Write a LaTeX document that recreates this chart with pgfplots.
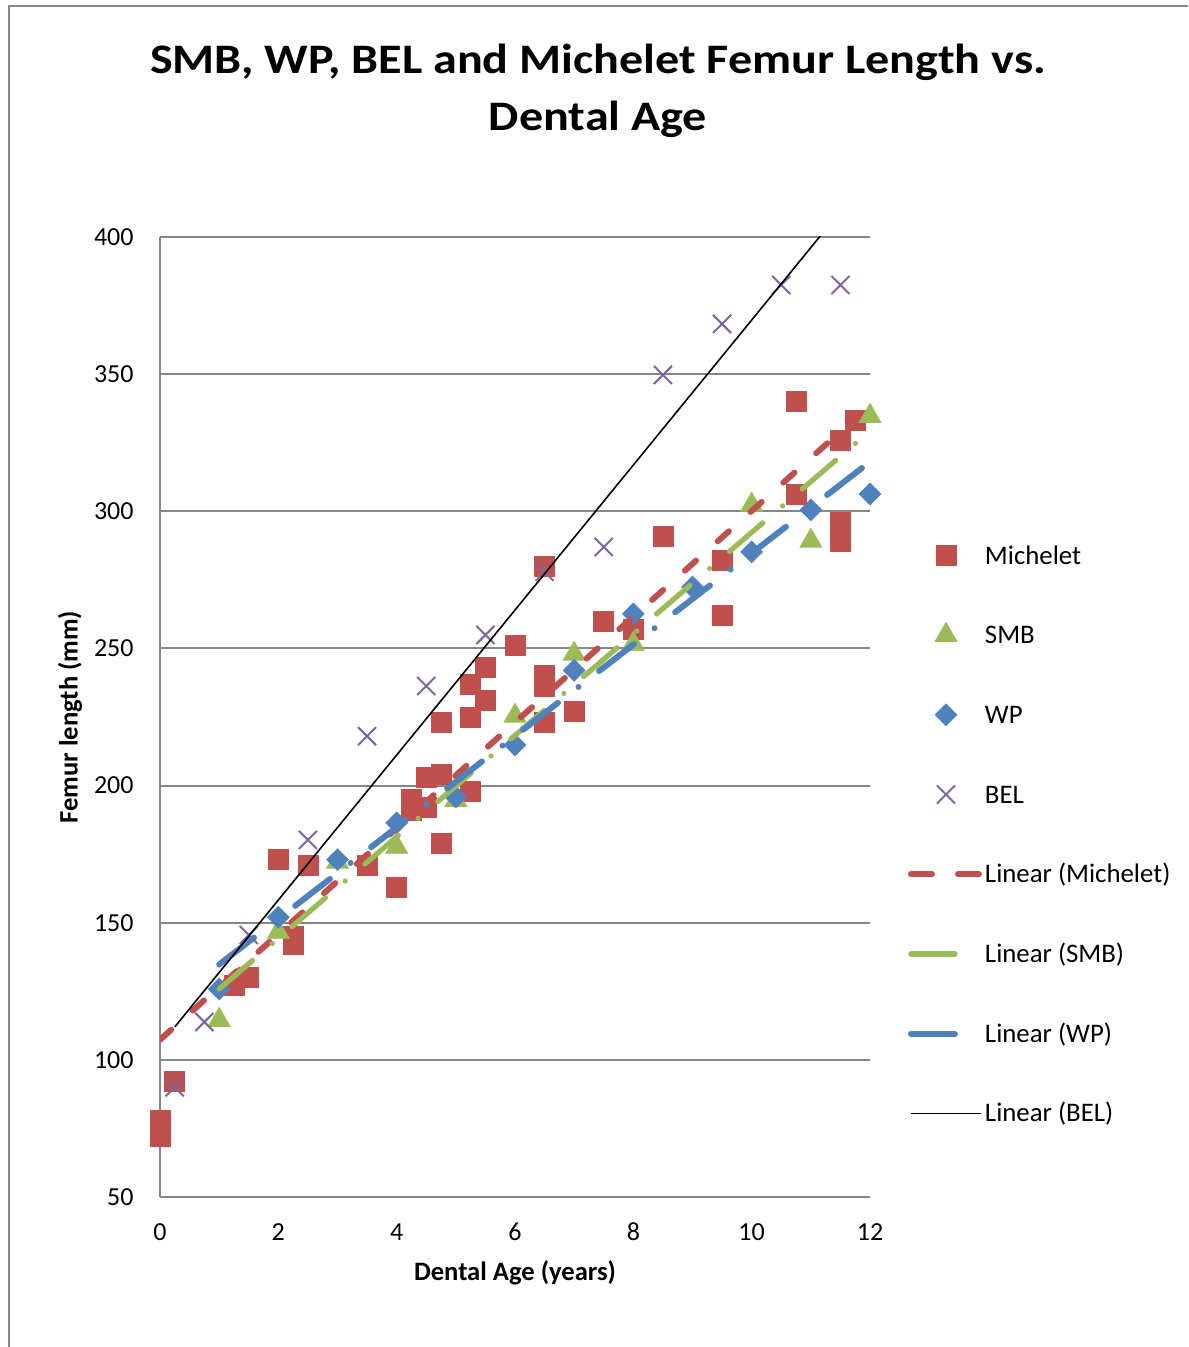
\documentclass[border=0pt]{standalone}
\usepackage{fontspec}
\setmainfont{Carlito}
\newfontfamily\titlefont[FakeStretch=1.145]{Carlito}
\usepackage{pgfplots}
\usepackage{pgfplotstable}
\pgfplotsset{compat=1.18}
\definecolor{mred}{HTML}{C0504D}
\definecolor{mgreen}{HTML}{9BBB59}
\definecolor{mblue}{HTML}{4F81BD}
\definecolor{mpurple}{HTML}{8064A2}
\definecolor{gridgray}{HTML}{868686}

\pgfplotstableread{
x y
0 78
0 72
0.25 92
1.25 127
1.5 130
2 173
2.25 145
2.25 142
2.5 171
3.5 171
4 163
4.25 195
4.25 191
4.5 192
4.5 203
4.75 204
4.75 223
4.75 179
5.25 198
5.25 225
5.25 237
5.5 231
5.5 243
6 251
6.5 280
6.5 240
6.5 236
6.5 223
7 227
7.5 260
8 257
8.5 291
9.5 282
9.5 262
10.75 340
10.75 306
11.5 326
11.5 296
11.5 289
11.75 333
}\mich

\pgfplotstableread{
x y
1 114.5
2 146.6
3 172.2
4 177.6
5 194.7
6 225.4
7 248
8 251.6
10 302.3
11 289.2
12 334.7
}\smb

\pgfplotstableread{
x y
1 125.8
2 152
3 173
4 186.4
5 195.8
6 214.8
7 242
8 262.6
9 272.4
10 285.2
11 300.5
12 306.3
}\wp

\pgfplotstableread{
x y
0.25 90
0.75 113.8
1.5 145.5
2.5 180.2
3.5 218
4.5 236.3
5.5 254.9
6.5 277.9
7.5 287
8.5 349.7
9.5 368.3
10.5 382.5
11.5 382.5
}\bel

\pgfplotsset{
  limg/.style={legend image code/.code={\draw[mark repeat=2,mark phase=2,##1] plot coordinates {(0pt,0.3pt) (17.5pt,0.3pt) (35pt,0.3pt)};}},
  mleg/.style={legend image code/.code={\draw[##1, dash pattern=on 10.5pt off 13pt] plot coordinates {(0pt,0.3pt) (35pt,0.3pt)};}},
}

\begin{document}
\begin{tikzpicture}
\useasboundingbox (0,0) rectangle (594pt,673.5pt);
\draw[color=gridgray, line width=1pt] (4.5pt,0) -- (4.5pt,670.5pt) -- (594pt,670.5pt);
\node[align=center, font=\titlefont\fontsize{21}{28.5}\selectfont\bfseries] at (299pt,628pt) {SMB, WP, BEL and Michelet Femur Length vs.\\Dental Age};
\begin{axis}[
  at={(80pt,75pt)}, anchor=south west,
  scale only axis, width=355pt, height=480pt,
  xmin=0, xmax=12, ymin=50, ymax=400,
  xtick={0,2,...,12}, ytick={50,100,...,400},
  axis x line=bottom, axis y line=left,
  axis line style={draw=gridgray, line width=1pt, -},
  major tick length=0pt,
  ymajorgrids, grid style={gridgray, line width=1pt},
  /pgf/number format/assume math mode=true,
  ticklabel style={font=\fontsize{13}{15}\selectfont},
  yticklabel style={anchor=east, inner sep=0pt, xshift=-13pt},
  xticklabel style={anchor=center, inner sep=0pt, yshift=-17.5pt},
  xlabel={Dental Age (years)}, ylabel={Femur length (mm)},
  label style={font=\fontsize{13.3}{15}\selectfont\bfseries},
  xlabel style={at={(axis description cs:0.5,-0.0792)}, anchor=center},
  ylabel style={at={(axis description cs:-0.1268,0.5)}, anchor=center},
  clip mode=individual,
  legend style={at={(axis description cs:1.0535,0.6927)}, anchor=north west,
    draw=none, fill=none, inner sep=0pt, outer sep=0pt,
    font=\fontsize{13.4}{15}\selectfont, row sep=15.85pt, column sep=0.5pt,
    nodes={inner sep=0pt, text height=16pt, text depth=8pt}},
  legend cell align=left,
]
\addplot[only marks, mark=square*, mark size=5pt, color=mred, limg] table[x=x,y=y] {\mich};
\addlegendentry{Michelet}
\addplot[only marks, mark=triangle*, mark size=6.3pt, color=mgreen, limg] table[x=x,y=y] {\smb};
\addlegendentry{SMB}
\addplot[only marks, mark=square*, mark options={rotate=45}, mark size=3.8pt, color=mblue, limg] table[x=x,y=y] {\wp};
\addlegendentry{WP}
\addplot[only marks, mark=x, mark size=6.4pt, color=mpurple, line width=1pt, limg] table[x=x,y=y] {\bel};
\addlegendentry{BEL}
\addplot[no marks, color=mred, line width=3pt, line cap=round, dash pattern=on 7.5pt off 14.5pt, mleg]
  table[x=x, y={create col/linear regression={y=y}}] {\mich};
\addlegendentry{Linear (Michelet)}
\addplot[no marks, color=mgreen, line width=2.6pt, line cap=round, dash pattern=on 22pt off 13pt on 0.01pt off 13pt, limg]
  table[x=x, y={create col/linear regression={y=y}}] {\smb};
\addlegendentry{Linear (SMB)}
\addplot[no marks, color=mblue, line width=3pt, line cap=round, dash pattern=on 22pt off 13pt on 0.01pt off 13pt, limg]
  table[x=x, y={create col/linear regression={y=y}}] {\wp};
\addlegendentry{Linear (WP)}
\addplot[no marks, color=black, line width=0.8pt, limg]
  table[x=x, y={create col/linear regression={y=y}}] {\bel};
\addlegendentry{Linear (BEL)}
\end{axis}
\end{tikzpicture}
\end{document}
